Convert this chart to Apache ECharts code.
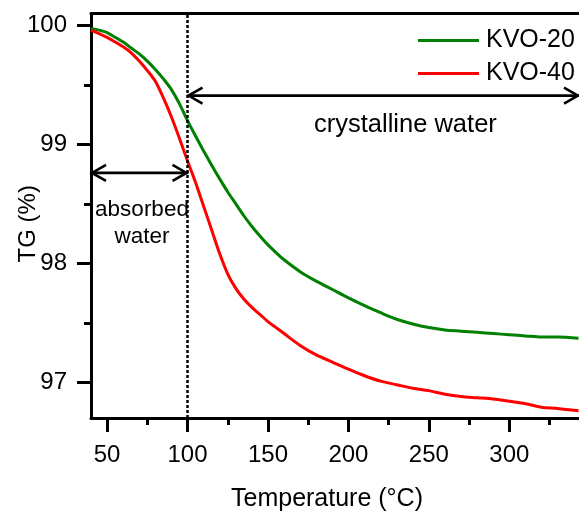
<!DOCTYPE html>
<html>
<head>
<meta charset="utf-8">
<script src="https://cdn.jsdelivr.net/npm/echarts@6/dist/echarts.min.js"></script>
<style>html,body{margin:0;padding:0;background:#fff}#c{width:579px;height:513px}</style>
</head>
<body>
<div id="c"></div>
<script>
// Temperature (°C)
const temps = [40,45,50,55,60,65,70,75,80,85,90,95,100,105,110,115,120,125,130,135,140,145,150,155,160,170,180,190,200,210,220,230,240,250,260,270,280,290,300,310,320,330,343];
// TG (%) KVO-20
const kvo20 = [99.975,99.96,99.94,99.90,99.86,99.81,99.76,99.70,99.63,99.55,99.46,99.34,99.20,99.07,98.945,98.825,98.71,98.60,98.50,98.40,98.31,98.23,98.155,98.09,98.03,97.93,97.85,97.78,97.71,97.645,97.585,97.53,97.49,97.46,97.44,97.43,97.42,97.41,97.40,97.39,97.38,97.38,97.37];
// TG (%) KVO-40
const kvo40 = [99.96,99.93,99.90,99.86,99.82,99.77,99.70,99.62,99.53,99.39,99.23,99.05,98.86,98.68,98.48,98.28,98.08,97.91,97.79,97.70,97.63,97.57,97.51,97.46,97.41,97.31,97.23,97.17,97.11,97.055,97.01,96.98,96.95,96.93,96.90,96.88,96.87,96.86,96.84,96.82,96.79,96.78,96.76];
const seriesNames = ['KVO-20','KVO-40'];
const xMajorTicks = [50,100,150,200,250,300];
const xMinorTicks = [75,125,175,225,275,325];
const yMajorTicks = [97,98,99,100];
const yMinorTicks = [97.5,98.5,99.5];
const xRange = [40, 343.3];
const yRange = [96.70, 100.10];
const dividerTemp = 100;
// arrows: [fromTemp, toTemp, TG]
const arrows = [[40, 100, 98.76], [100, 343.3, 99.41]];
const annotations = ['crystalline water','absorbed','water'];

const FONT = "'Liberation Sans', Arial, sans-serif";

const chart = echarts.init(document.getElementById('c'), null, {renderer:'canvas'});
const gridPos = {left:91, right:0, top:13.5, bottom:95, containLabel:false, outerBoundsMode:'none'};
const axisLineStyle = {color:'#000', width:3};

function renderArrow(params, api) {
  const y = api.value(2);
  const p1 = api.coord([api.value(0), y]);
  const p2 = api.coord([api.value(1), y]);
  const L = 15, H = 8;
  const st = {stroke:'#000', lineWidth:2.6, fill:null};
  return {type:'group', children:[
    {type:'line', shape:{x1:p1[0], y1:p1[1], x2:p2[0], y2:p2[1]}, style:st},
    {type:'polyline', shape:{points:[[p1[0]+L, p1[1]-H],[p1[0]+1, p1[1]],[p1[0]+L, p1[1]+H]]}, style:st},
    {type:'polyline', shape:{points:[[p2[0]-L, p2[1]-H],[p2[0]-1, p2[1]],[p2[0]-L, p2[1]+H]]}, style:st}
  ]};
}

chart.setOption({
  animation:false,
  backgroundColor:'#fff',
  grid:[Object.assign({}, gridPos), Object.assign({}, gridPos)],
  legend:{
    orient:'vertical', left:418, top:28, padding:0,
    icon:'rect', itemWidth:61, itemHeight:3, itemGap:8,
    textStyle:{fontFamily:FONT, fontSize:25, color:'#000', lineHeight:24, padding:[0,0,0,2]},
    data:seriesNames
  },
  xAxis:[
    {gridIndex:0, type:'value', min:xRange[0], max:xRange[1], position:'bottom',
     axisLine:{lineStyle:axisLineStyle}, splitLine:{show:false},
     axisTick:{show:true, inside:false, length:14, lineStyle:{color:'#000', width:3}, customValues:xMajorTicks.slice()},
     axisLabel:{customValues:xMajorTicks.slice(), margin:25, fontFamily:FONT, fontSize:24, color:'#000'},
     name:'Temperature (°C)', nameLocation:'middle', nameGap:69, nameMoveOverlap:false,
     nameTextStyle:{fontFamily:FONT, fontSize:25, color:'#000', padding:[0,16,0,0]}},
    {gridIndex:0, type:'value', min:xRange[0], max:xRange[1], position:'top',
     axisLine:{lineStyle:axisLineStyle}, axisTick:{show:false}, axisLabel:{show:false}, splitLine:{show:false}},
    {gridIndex:1, type:'value', min:xRange[0], max:xRange[1], position:'bottom',
     axisLine:{show:false}, splitLine:{show:false}, axisLabel:{show:false},
     axisTick:{show:true, inside:false, length:7, lineStyle:{color:'#000', width:3}, customValues:xMinorTicks.slice()}}
  ],
  yAxis:[
    {gridIndex:0, type:'value', min:yRange[0], max:yRange[1], position:'left',
     axisLine:{show:true, lineStyle:axisLineStyle}, splitLine:{show:false},
     axisTick:{show:true, inside:false, length:14, lineStyle:{color:'#000', width:3}, customValues:yMajorTicks.slice()},
     axisLabel:{customValues:yMajorTicks.slice(), margin:24, fontFamily:FONT, fontSize:24, color:'#000'},
     name:'TG (%)', nameLocation:'middle', nameGap:51, nameMoveOverlap:false,
     nameTextStyle:{fontFamily:FONT, fontSize:24, color:'#000', padding:[0,16,0,0]}},
    {gridIndex:1, type:'value', min:yRange[0], max:yRange[1], position:'left',
     axisLine:{show:false}, splitLine:{show:false}, axisLabel:{show:false},
     axisTick:{show:true, inside:false, length:7, lineStyle:{color:'#000', width:3}, customValues:yMinorTicks.slice()}}
  ],
  series:[
    {name:seriesNames[0], type:'line', xAxisIndex:0, yAxisIndex:0, symbol:'none', smooth:0.3,
     color:'#008000', lineStyle:{width:3, color:'#008000'},
     data:temps.map((t,i)=>[t,kvo20[i]])},
    {name:seriesNames[1], type:'line', xAxisIndex:0, yAxisIndex:0, symbol:'none', smooth:0.3,
     color:'#ff0000', lineStyle:{width:3, color:'#ff0000'},
     data:temps.map((t,i)=>[t,kvo40[i]]),
     markLine:{silent:true, animation:false, symbol:'none', label:{show:false},
       lineStyle:{color:'#000', width:2.5, type:[3,2]},
       emphasis:{disabled:true},
       data:[{xAxis:dividerTemp}]}},
    {name:'arrows', type:'custom', xAxisIndex:0, yAxisIndex:0, silent:true, clip:false,
     encode:{x:[0,1], y:2}, renderItem:renderArrow, data:arrows, z:5}
  ],
  graphic:[
    {type:'text', z:50, style:{text:annotations[0], x:314, y:125, align:'left', verticalAlign:'middle', font:'25.5px '+FONT, fill:'#000'}},
    {type:'text', z:50, style:{text:annotations[1], x:142, y:210, align:'center', verticalAlign:'middle', font:'22.5px '+FONT, fill:'#000'}},
    {type:'text', z:50, style:{text:annotations[2], x:142, y:237, align:'center', verticalAlign:'middle', font:'22.5px '+FONT, fill:'#000'}}
  ]
});
</script>
</body>
</html>
